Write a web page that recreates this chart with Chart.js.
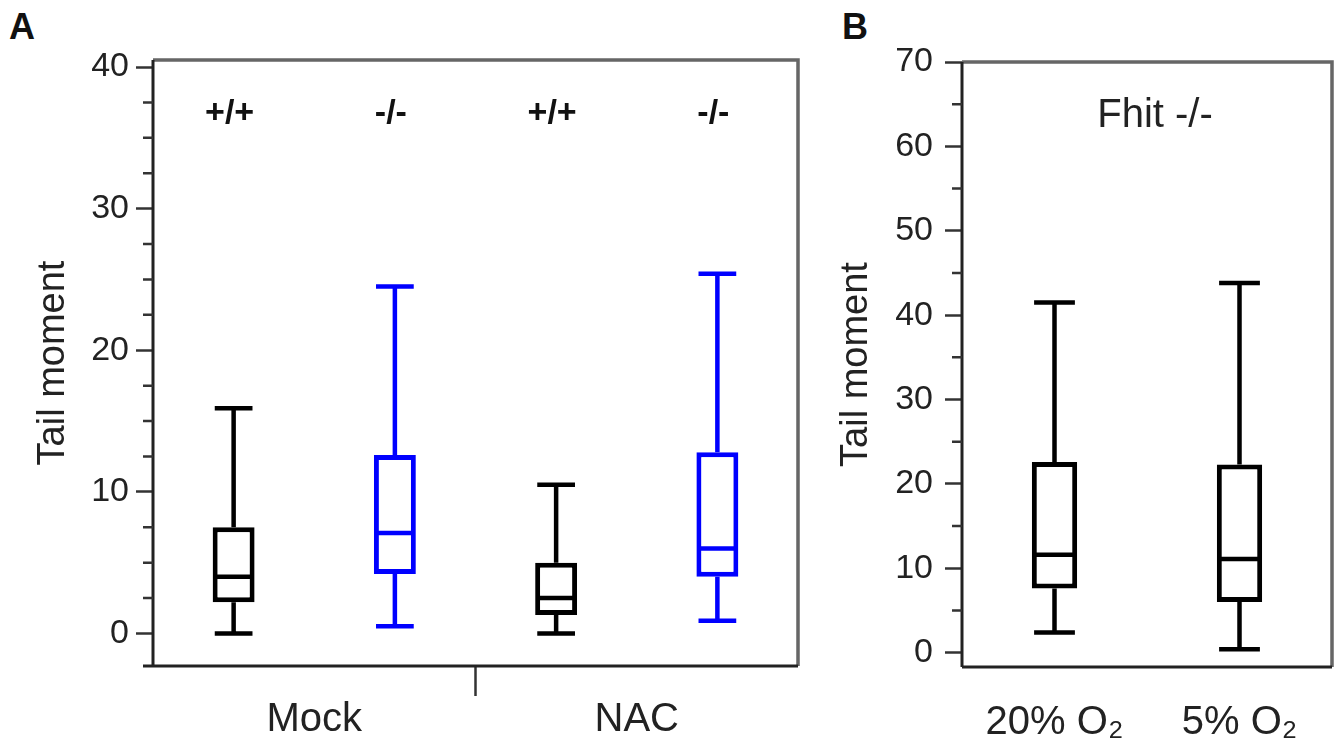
<!DOCTYPE html>
<html>
<head>
<meta charset="utf-8">
<script src="https://cdn.jsdelivr.net/npm/chart.js@4.4.1/dist/chart.umd.min.js"></script>
<style>
  html, body { margin: 0; padding: 0; background: #fff; }
  body { width: 1342px; height: 745px; position: relative; overflow: hidden; font-family: 'Liberation Sans', Arial, sans-serif; }
  .panel { position: absolute; top: 0; }
  #wrapA { left: 0; }
  #wrapB { left: 810px; }
  .tag { position: absolute; top: 9px; font-size: 36px; line-height: 36px; font-weight: bold; color: #111; }
</style>
</head>
<body>
<div class="tag" style="left:9px">A</div>
<div class="tag" style="left:842px">B</div>
<div class="panel" id="wrapA"><canvas id="chartA" width="820" height="745"></canvas></div>
<div class="panel" id="wrapB"><canvas id="chartB" width="532" height="745"></canvas></div>
<script>
// panel A: comet assay, Mock vs NAC
const groupsA = ['Mock', 'NAC'];
const genotypeA = ['+/+', '-/-', '+/+', '-/-'];
const minA = [0.0, 0.5, 0.0, 0.9];
const q1A = [2.2, 4.2, 1.3, 4.0];
const medA = [4.0, 7.1, 2.5, 6.0];
const q3A = [7.5, 12.6, 5.0, 12.8];
const maxA = [15.9, 24.5, 10.5, 25.4];
const yTicksA = [0, 10, 20, 30, 40];
const yMinorA = [2.5, 5, 7.5, 12.5, 15, 17.5, 22.5, 25, 27.5, 32.5, 35, 37.5];

// panel B: Fhit -/- under 20% / 5% O2
const labelsB = ['20% O₂', '5% O₂'];
const minB = [2.4, 0.4];
const q1B = [7.6, 6.0];
const medB = [11.6, 11.1];
const q3B = [22.6, 22.3];
const maxB = [41.5, 43.8];
const yTicksB = [0, 10, 20, 30, 40, 50, 60, 70];
const yMinorB = [5, 15, 25, 35, 45, 55, 65];

const FONT = "'Liberation Sans', Arial, sans-serif";
const TXT = '#222';
const colorsA = ['#000', '#0000ff', '#000', '#0000ff'];
const colorsB = ['#000', '#000'];

// whiskers + median drawn on top of the floating bars
function boxPlot(stats, colors) {
  return {
    id: 'boxPlot',
    afterDatasetsDraw(chart) {
      const ctx = chart.ctx;
      const y = chart.scales.y;
      chart.getDatasetMeta(0).data.forEach((bar, i) => {
        const half = bar.width / 2;
        const cap = half * 0.9;
        const yMax = y.getPixelForValue(stats.max[i]);
        const yMin = y.getPixelForValue(stats.min[i]);
        const yMed = y.getPixelForValue(stats.med[i]);
        ctx.save();
        ctx.strokeStyle = colors[i];
        ctx.lineWidth = 4.5;
        ctx.beginPath();
        ctx.moveTo(bar.x, y.getPixelForValue(stats.q3[i]));
        ctx.lineTo(bar.x, yMax);
        ctx.moveTo(bar.x, y.getPixelForValue(stats.q1[i]));
        ctx.lineTo(bar.x, yMin);
        ctx.moveTo(bar.x - cap, yMax);
        ctx.lineTo(bar.x + cap, yMax);
        ctx.moveTo(bar.x - cap, yMin);
        ctx.lineTo(bar.x + cap, yMin);
        ctx.moveTo(bar.x - half + 2, yMed);
        ctx.lineTo(bar.x + half - 2, yMed);
        ctx.stroke();
        ctx.restore();
      });
    }
  };
}

// frame around the plot + minor ticks on y
function frame(minor, extendLeft) {
  return {
    id: 'frame',
    afterDraw(chart) {
      const {ctx, chartArea: a} = chart;
      const y = chart.scales.y;
      ctx.save();
      ctx.lineWidth = 3.5;
      ctx.strokeStyle = '#666';
      ctx.beginPath();
      ctx.moveTo(a.left, a.top);
      ctx.lineTo(a.right, a.top);
      ctx.lineTo(a.right, a.bottom);
      ctx.stroke();
      ctx.lineWidth = 3;
      ctx.strokeStyle = '#222';
      ctx.beginPath();
      ctx.moveTo(a.left, a.top);
      ctx.lineTo(a.left, a.bottom);
      ctx.moveTo(a.left - extendLeft, a.bottom);
      ctx.lineTo(a.right, a.bottom);
      ctx.stroke();
      ctx.lineWidth = 2.5;
      ctx.strokeStyle = '#333';
      ctx.beginPath();
      minor.forEach(v => {
        const py = y.getPixelForValue(v);
        ctx.moveTo(a.left - 10, py);
        ctx.lineTo(a.left, py);
      });
      ctx.stroke();
      ctx.restore();
    }
  };
}

// text labels inside the plot area
function innerLabels(draw) {
  return { id: 'innerLabels', afterDraw: draw };
}

function yAxis(min, max, ticks, width, pad) {
  return {
    min: min,
    max: max,
    afterBuildTicks: s => { s.ticks = ticks.map(v => ({ value: v })); },
    afterFit: s => { s.width = width; },
    border: { display: false },
    grid: { drawOnChartArea: false, tickLength: 17, tickWidth: 2.5, tickColor: '#333' },
    ticks: { font: { size: 34, family: FONT }, color: TXT, padding: pad },
    title: { display: true, text: 'Tail moment', color: TXT, font: { size: 38, family: FONT }, padding: { top: 4, bottom: 4 } }
  };
}

new Chart(document.getElementById('chartA'), {
  type: 'bar',
  data: {
    labels: genotypeA,
    datasets: [{
      data: q1A.map((q, i) => [q, q3A[i]]),
      backgroundColor: '#fff',
      borderColor: colorsA,
      borderWidth: 5,
      borderSkipped: false,
      barPercentage: 0.26,
      categoryPercentage: 1
    }]
  },
  options: {
    responsive: false,
    animation: false,
    layout: { padding: { left: 27, right: 22, top: 60, bottom: 0 } },
    plugins: { legend: { display: false }, tooltip: { enabled: false } },
    scales: {
      x: { display: false },
      x2: {
        type: 'category',
        labels: groupsA,
        position: 'bottom',
        offset: true,
        afterFit: s => { s.height = 79; },
        border: { display: false },
        grid: {
          offset: true,
          drawOnChartArea: false,
          tickLength: 30,
          tickWidth: 2.5,
          tickColor: c => (c.index === 1 ? '#333' : 'rgba(0,0,0,0)')
        },
        ticks: { font: { size: 40, family: FONT }, color: TXT, padding: 0 }
      },
      y: yAxis(-2.3, 40.5, yTicksA, 126, 7)
    }
  },
  plugins: [
    boxPlot({ min: minA, q1: q1A, med: medA, q3: q3A, max: maxA }, colorsA),
    frame(yMinorA, 10),
    innerLabels(chart => {
      const ctx = chart.ctx;
      ctx.save();
      ctx.font = 'bold 34px ' + FONT;
      ctx.fillStyle = '#111';
      ctx.textAlign = 'center';
      ctx.textBaseline = 'middle';
      chart.getDatasetMeta(0).data.forEach((bar, i) => {
        ctx.fillText(genotypeA[i], bar.x - 4, chart.chartArea.top + 54);
      });
      ctx.restore();
    })
  ]
});

new Chart(document.getElementById('chartB'), {
  type: 'bar',
  data: {
    labels: labelsB,
    datasets: [{
      data: q1B.map((q, i) => [q, q3B[i]]),
      backgroundColor: '#fff',
      borderColor: colorsB,
      borderWidth: 5,
      borderSkipped: false,
      barPercentage: 0.245,
      categoryPercentage: 1
    }]
  },
  options: {
    responsive: false,
    animation: false,
    layout: { padding: { left: 20, right: 10, top: 62, bottom: 0 } },
    plugins: { legend: { display: false }, tooltip: { enabled: false } },
    scales: {
      x: {
        afterFit: s => { s.height = 78; },
        border: { display: false },
        grid: { display: false },
        ticks: { font: { size: 40, family: FONT }, color: TXT, padding: 24 }
      },
      y: yAxis(-1.7, 70, yTicksB, 132, 12)
    }
  },
  plugins: [
    boxPlot({ min: minB, q1: q1B, med: medB, q3: q3B, max: maxB }, colorsB),
    frame(yMinorB, 0),
    innerLabels(chart => {
      const ctx = chart.ctx;
      const a = chart.chartArea;
      ctx.save();
      ctx.font = '40px ' + FONT;
      ctx.fillStyle = TXT;
      ctx.textAlign = 'center';
      ctx.textBaseline = 'middle';
      ctx.fillText('Fhit -/-', (a.left + a.right) / 2 + 8, a.top + 54);
      ctx.restore();
    })
  ]
});
</script>
</body>
</html>
